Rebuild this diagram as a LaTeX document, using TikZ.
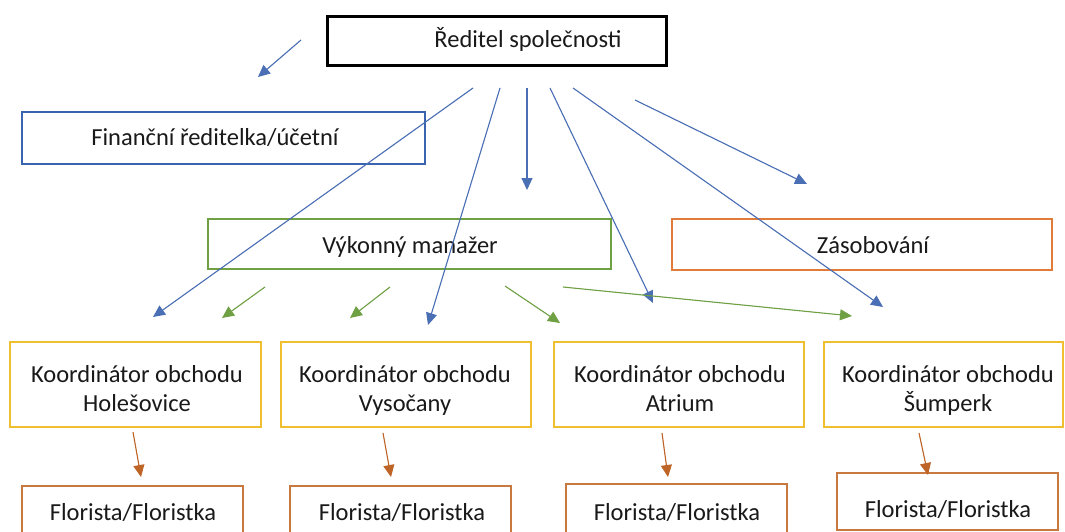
\documentclass[tikz,border=0pt]{standalone}
\usepackage{fontspec}
\setmainfont{Carlito}
\usetikzlibrary{arrows.meta}
\definecolor{cblue}{HTML}{4A6FB5}
\definecolor{cbluebox}{HTML}{3A64AF}
\definecolor{cgreen}{HTML}{70A044}
\definecolor{corange}{HTML}{E07B39}
\definecolor{cyellow}{HTML}{F0BF30}
\definecolor{cbrown}{HTML}{C8793F}
\definecolor{carrow}{HTML}{ED7D31}
\tikzset{
  box/.style={draw, line width=2.4pt, anchor=north west, inner sep=0pt, outer sep=0pt},
  lbl/.style={font=\fontsize{24.5}{29}\selectfont, align=center, inner sep=0pt, text=black!90, anchor=base},
  lbltwo/.style={lbl, anchor=north},
  conn/.style={line width=1.1pt, -{Triangle[length=12pt,width=11pt]}},
  bluearrow/.style={conn, draw=cblue, fill=cblue},
  greenarrow/.style={conn, draw=cgreen, fill=cgreen},
  orangearrow/.style={conn, draw=carrow!80!black, fill=carrow},
}
\begin{document}
\begin{tikzpicture}[x=1pt,y=-1pt]
\useasboundingbox (0,0) rectangle (1065,532);
\clip (0,0) rectangle (1065,532);
\fill[white] (0,0) rectangle (1065,532);
% boxes
\node[box, draw=black, line width=3pt, minimum width=339pt, minimum height=49pt] (ceo) at (327,17) {};
\node[lbl] (ceot) at (528,48) {Ředitel společnosti};
\node[box, draw=cbluebox, minimum width=403pt, minimum height=52pt] (fin) at (22,112) {};
\node[lbl] (fint) at (215,146) {Finanční ředitelka/účetní};
\node[box, draw=cgreen, minimum width=403pt, minimum height=50pt] (vm) at (208,219) {};
\node[lbl] (vmt) at (410,253) {Výkonný manažer};
\node[box, draw=corange, minimum width=380pt, minimum height=51pt] (zas) at (672,219) {};
\node[lbl] (zast) at (873,253) {Zásobování};
\node[box, draw=cyellow, minimum width=251pt, minimum height=85pt] (k1) at (10,342) {};
\node[lbltwo] (k1t) at (137,365) {Koordinátor obchodu\\Holešovice};
\node[box, draw=cyellow, minimum width=250pt, minimum height=85pt] (k2) at (281,342) {};
\node[lbltwo] (k2t) at (405,365) {Koordinátor obchodu\\Vysočany};
\node[box, draw=cyellow, minimum width=250pt, minimum height=85pt] (k3) at (554,342) {};
\node[lbltwo] (k3t) at (680,365) {Koordinátor obchodu\\Atrium};
\node[box, draw=cyellow, minimum width=239pt, minimum height=85pt] (k4) at (824,342) {};
\node[lbltwo] (k4t) at (948,365) {Koordinátor obchodu\\Šumperk};
\node[box, draw=cbrown, minimum width=221pt, minimum height=60pt] (f1) at (22,486) {};
\node[lbl] (f1t) at (133,520) {Florista/Floristka};
\node[box, draw=cbrown, minimum width=221pt, minimum height=60pt] (f2) at (290,486) {};
\node[lbl] (f2t) at (402,520) {Florista/Floristka};
\node[box, draw=cbrown, minimum width=221pt, minimum height=62pt] (f3) at (566,484) {};
\node[lbl] (f3t) at (677,520) {Florista/Floristka};
\node[box, draw=cbrown, minimum width=221pt, minimum height=57pt] (f4) at (837,473) {};
\node[lbl] (f4t) at (948,517) {Florista/Floristka};
% connector end points
\coordinate (b0s) at (301,40); \coordinate (b0e) at (258,77);
\coordinate (b1s) at (473,88); \coordinate (b1e) at (153,317);
\coordinate (b2s) at (500,88); \coordinate (b2e) at (428,325);
\coordinate (b3s) at (527,88); \coordinate (b3e) at (527,190);
\coordinate (b4s) at (550,88); \coordinate (b4e) at (653,303);
\coordinate (b5s) at (573,88); \coordinate (b5e) at (883,307);
\coordinate (b6s) at (635,100); \coordinate (b6e) at (807,184);
\coordinate (g1s) at (265,287); \coordinate (g1e) at (222,318);
\coordinate (g2s) at (390,287); \coordinate (g2e) at (350,318);
\coordinate (g3s) at (505,286); \coordinate (g3e) at (560,323);
\coordinate (g4s) at (563,287); \coordinate (g4e) at (852,316);
\coordinate (o1s) at (133,432); \coordinate (o1e) at (141,477);
\coordinate (o2s) at (383,433); \coordinate (o2e) at (391,477);
\coordinate (o3s) at (662,433); \coordinate (o3e) at (668,477);
\coordinate (o4s) at (919,433); \coordinate (o4e) at (928,475);
% connectors
\foreach \a in {b0,b1,b2,b3,b4,b5,b6} \draw[bluearrow] (\a s) -- (\a e);
\foreach \a in {g1,g2,g3,g4} \draw[greenarrow] (\a s) -- (\a e);
\foreach \a in {o1,o2,o3,o4} \draw[orangearrow] (\a s) -- (\a e);
\end{tikzpicture}
\end{document}
